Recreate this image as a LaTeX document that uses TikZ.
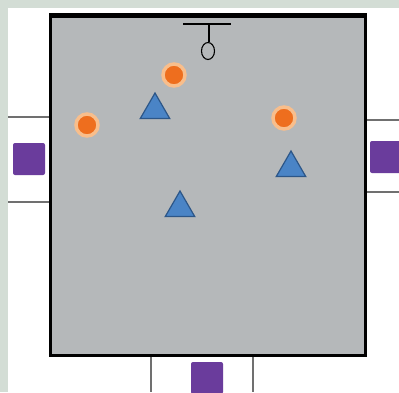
\documentclass[tikz,border=0pt]{standalone}
\usetikzlibrary{shapes.geometric}
\definecolor{bgg}{HTML}{D3DDD5}
\definecolor{room}{HTML}{B5B8BA}
\definecolor{org}{HTML}{EE6E1E}
\definecolor{halo}{HTML}{F8BE8C}
\definecolor{tri}{HTML}{4A84C6}
\definecolor{trio}{HTML}{2C5688}
\definecolor{purp}{HTML}{6A3C9C}
\definecolor{doorl}{HTML}{707070}
\begin{document}
\begin{tikzpicture}[x=1pt,y=-1pt,
  person/.style={circle,fill=org,draw=halo,line width=3.5pt,minimum size=22pt,inner sep=0pt},
  tribox/.style={regular polygon,regular polygon sides=3,fill=tri,draw=trio,line width=1.2pt,minimum size=34pt,inner sep=0pt},
  sq/.style={rectangle,rounded corners=2pt,fill=purp,minimum size=32pt,inner sep=0pt},
  doorline/.style={draw=doorl,line width=1.3pt}]
\useasboundingbox (0,0) rectangle (399,392);
\clip (0,0) rectangle (399,392);
\fill[bgg] (0,0) rectangle (399,392);
\fill[white] (8,8) rectangle (399,392);
% doors
\draw[doorline] (8,117) -- (49,117);
\draw[doorline] (8,202) -- (49,202);
\draw[doorline] (364,120) -- (399,120);
\draw[doorline] (364,192) -- (399,192);
\draw[doorline] (151,354) -- (151,392);
\draw[doorline] (253,354) -- (253,392);
% room
\node[draw=black,line width=2.5pt,fill=room,minimum width=315pt,minimum height=339pt,inner sep=0pt,anchor=north west] (roomr) at (49,15) {};
\draw[line width=4pt] (roomr.north west) -- (roomr.north east);
% fixture
\coordinate (fl) at (183,24);
\coordinate (fr) at (231,24);
\coordinate (fm) at (209,24);
\draw[line width=1.3pt] (fl) -- (fr);
\node[ellipse,draw=black,line width=1.1pt,minimum width=13pt,minimum height=17pt,inner sep=0pt] (lamp) at (208,51) {};
\draw[line width=1.1pt] (fm) -- (lamp.north -| fm);
% squares
\node[sq] (sqL) at (29,159) {};
\node[sq] (sqR) at (386,157) {};
\node[sq] (sqB) at (207,378) {};
% people
\node[person] (p1) at (174,75) {};
\node[person] (p2) at (87,125) {};
\node[person] (p3) at (284,118) {};
% triangles
\node[tribox] (t1) at (155,110) {};
\node[tribox] (t2) at (180,208) {};
\node[tribox] (t3) at (291,168) {};
\end{tikzpicture}
\end{document}
